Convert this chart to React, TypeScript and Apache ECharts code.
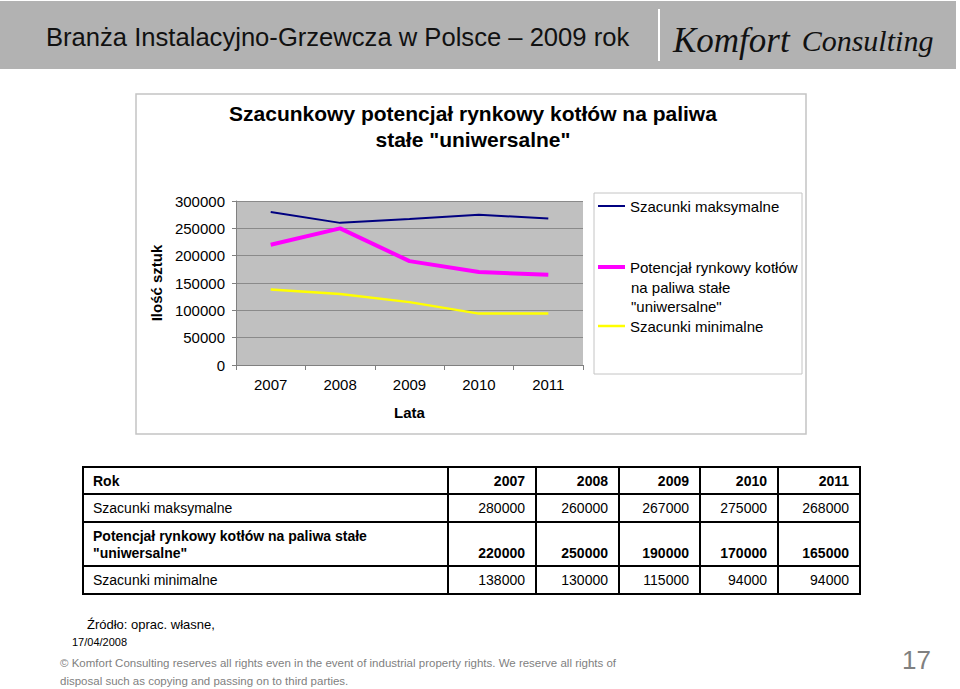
import React, { useEffect, useRef } from 'react';
import * as echarts from 'echarts';

const years = ['2007', '2008', '2009', '2010', '2011'];
const maxVals = [280000, 260000, 267000, 275000, 268000];
const potVals = [220000, 250000, 190000, 170000, 165000];
const minVals = [138000, 130000, 115000, 94000, 94000];
const seriesNames = [
  'Szacunki maksymalne',
  'Potencjał rynkowy kotłów na paliwa stałe "uniwersalne"',
  'Szacunki minimalne',
];
const legendLines = ['Potencjał rynkowy kotłów', 'na paliwa stałe', '"uniwersalne"'];
const tableLabelLines = [
  ['Szacunki maksymalne'],
  ['Potencjał rynkowy kotłów na paliwa stałe', '"uniwersalne"'],
  ['Szacunki minimalne'],
];
const yMin = 0;
const yMax = 300000;
const yStep = 50000;

const FONT = '"Liberation Sans", Arial, sans-serif';

export default function App() {
  const ref = useRef<HTMLDivElement>(null);
  useEffect(() => {
    if (!ref.current) return;
    const chart = echarts.init(ref.current, null, { renderer: 'svg' });

    const rowsY = [467, 494, 522, 566, 594];
    const colsX = [83, 448, 536, 619, 700, 778, 860];
    const seriesVals = [maxVals, potVals, minVals];
    const g: any[] = [];

    // header band
    g.push({ type: 'rect', z: -5, shape: { x: 0, y: 1, width: 956, height: 68 }, style: { fill: '#b2b2b2' } });
    g.push({ type: 'line', shape: { x1: 659, y1: 9, x2: 659, y2: 61 }, style: { stroke: '#ffffff', lineWidth: 2 } });
    g.push({
      type: 'text',
      style: { text: 'Branża Instalacyjno-Grzewcza w Polsce – 2009 rok', x: 46, y: 37, fontSize: 25.6, fontFamily: FONT, fill: '#111', verticalAlign: 'middle' },
    });
    g.push({
      type: 'text',
      style: {
        text: '{a|Komfort}{b|Consulting}',
        x: 673, y: 40, verticalAlign: 'middle',
        rich: {
          a: { fontSize: 35, fontStyle: 'italic', fontFamily: '"Liberation Serif", serif', fill: '#111' },
          b: { fontSize: 30, fontStyle: 'italic', fontFamily: '"Liberation Serif", serif', fill: '#111', padding: [0, 0, 0, 12] },
        },
      },
    });

    // chart box
    g.push({ type: 'rect', z: -5, shape: { x: 136, y: 94, width: 670, height: 340 }, style: { fill: 'transparent', stroke: '#c4c4c4', lineWidth: 1.5 } });
    g.push({ type: 'rect', z: -5, shape: { x: 594, y: 193, width: 208, height: 181 }, style: { fill: '#ffffff', stroke: '#c4c4c4', lineWidth: 1 } });
    g.push({
      type: 'text',
      style: {
        text: 'Szacunkowy potencjał rynkowy kotłów na paliwa\nstałe "uniwersalne"',
        x: 473, y: 126, align: 'center', verticalAlign: 'middle',
        fontSize: 21, fontWeight: 'bold', fontFamily: FONT, fill: '#000', lineHeight: 26,
      },
    });
    // legend continuation lines
    legendLines.slice(1).forEach((t, i) => {
      g.push({
        type: 'text',
        style: { text: t, x: 631, y: 287 + i * 19.5, verticalAlign: 'middle', fontSize: 15, fontFamily: FONT, fill: '#000' },
      });
    });

    // table
    rowsY.forEach((y) => g.push({ type: 'line', shape: { x1: colsX[0] - 1, y1: y, x2: colsX[colsX.length - 1] + 1, y2: y }, style: { stroke: '#000', lineWidth: 2 } }));
    colsX.forEach((x) => g.push({ type: 'line', shape: { x1: x, y1: rowsY[0], x2: x, y2: rowsY[rowsY.length - 1] }, style: { stroke: '#000', lineWidth: 2 } }));
    const cellText = (text: string, x: number, y: number, bold: boolean, align: string) =>
      g.push({ type: 'text', style: { text, x, y, align, verticalAlign: 'middle', fontSize: 14, fontWeight: bold ? 'bold' : 'normal', fontFamily: FONT, fill: '#000' } });
    cellText('Rok', 93, 481, true, 'left');
    years.forEach((yr, i) => cellText(yr, colsX[i + 2] - 11, 481, true, 'right'));
    const rowTextY = [[508], [536, 553], [580]];
    tableLabelLines.forEach((lines, r) => {
      const bold = r === 1;
      lines.forEach((ln, k) => cellText(ln, 93, rowTextY[r][k], bold, 'left'));
      const vy = rowTextY[r][rowTextY[r].length - 1];
      seriesVals[r].forEach((v, i) => cellText(String(v), colsX[i + 2] - 11, vy, bold, 'right'));
    });

    // footer
    g.push({ type: 'text', style: { text: 'Źródło: oprac. własne,', x: 87, y: 624, verticalAlign: 'middle', fontSize: 13, fontFamily: FONT, fill: '#000' } });
    g.push({ type: 'text', style: { text: '17/04/2008', x: 72, y: 642, verticalAlign: 'middle', fontSize: 11, fontFamily: FONT, fill: '#000' } });
    g.push({
      type: 'text',
      style: {
        text: '© Komfort Consulting reserves all rights even in the event of industrial property rights. We reserve all rights of\ndisposal such as copying and passing on to third parties.',
        x: 60, y: 672, verticalAlign: 'middle', fontSize: 11.5, lineHeight: 18, fontFamily: FONT, fill: '#7f7f7f',
      },
    });
    g.push({ type: 'text', style: { text: '17', x: 931, y: 660, align: 'right', verticalAlign: 'middle', fontSize: 26, fontFamily: FONT, fill: '#808080' } });

    const legendBase = {
      orient: 'vertical',
      left: 598,
      padding: 0,
      itemWidth: 27,
      icon: 'rect',
      textStyle: { fontSize: 15, fontFamily: FONT, color: '#000' },
    };

    chart.setOption({
      animation: false,
      textStyle: { fontFamily: FONT },
      grid: { left: 236, top: 201, width: 347, height: 164, show: true, backgroundColor: '#c0c0c0', borderWidth: 0 },
      legend: [
        { ...legendBase, top: 198.5, itemHeight: 2, data: [seriesNames[0]] },
        { ...legendBase, top: 259.5, itemHeight: 4, data: [seriesNames[1]], formatter: () => legendLines[0] },
        { ...legendBase, top: 318.5, itemHeight: 2.5, data: [seriesNames[2]] },
      ],
      xAxis: {
        type: 'category',
        data: years,
        boundaryGap: true,
        name: 'Lata',
        nameLocation: 'middle',
        nameGap: 40,
        nameTextStyle: { fontSize: 15, fontWeight: 'bold', color: '#000' },
        axisLine: { lineStyle: { color: '#808080', width: 1 } },
        axisTick: { show: true, length: 5, lineStyle: { color: '#808080' } },
        axisLabel: { fontSize: 15, color: '#000', margin: 12 },
      },
      yAxis: {
        type: 'value',
        min: yMin,
        max: yMax,
        interval: yStep,
        name: 'Ilość sztuk',
        nameLocation: 'middle',
        nameGap: 72,
        nameTextStyle: { fontSize: 15, fontWeight: 'bold', color: '#000' },
        axisLine: { show: true, lineStyle: { color: '#808080', width: 1 } },
        axisTick: { show: true, length: 4, lineStyle: { color: '#808080' } },
        axisLabel: { fontSize: 15, color: '#000', margin: 11, formatter: (v: number) => String(v) },
        splitLine: { show: true, lineStyle: { color: '#8a8a8a', width: 1 } },
      },
      graphic: g,
      series: [
        { name: seriesNames[0], type: 'line', data: maxVals, symbol: 'none', lineStyle: { color: '#000080', width: 2 }, itemStyle: { color: '#000080' } },
        { name: seriesNames[1], type: 'line', data: potVals, symbol: 'none', lineStyle: { color: '#ff00ff', width: 4 }, itemStyle: { color: '#ff00ff' } },
        { name: seriesNames[2], type: 'line', data: minVals, symbol: 'none', lineStyle: { color: '#ffff00', width: 2.5 }, itemStyle: { color: '#ffff00' } },
      ],
    });
    return () => chart.dispose();
  }, []);
  return <div ref={ref} style={{ position: 'absolute', left: 0, top: 0, width: 960, height: 689 }} />;
}
